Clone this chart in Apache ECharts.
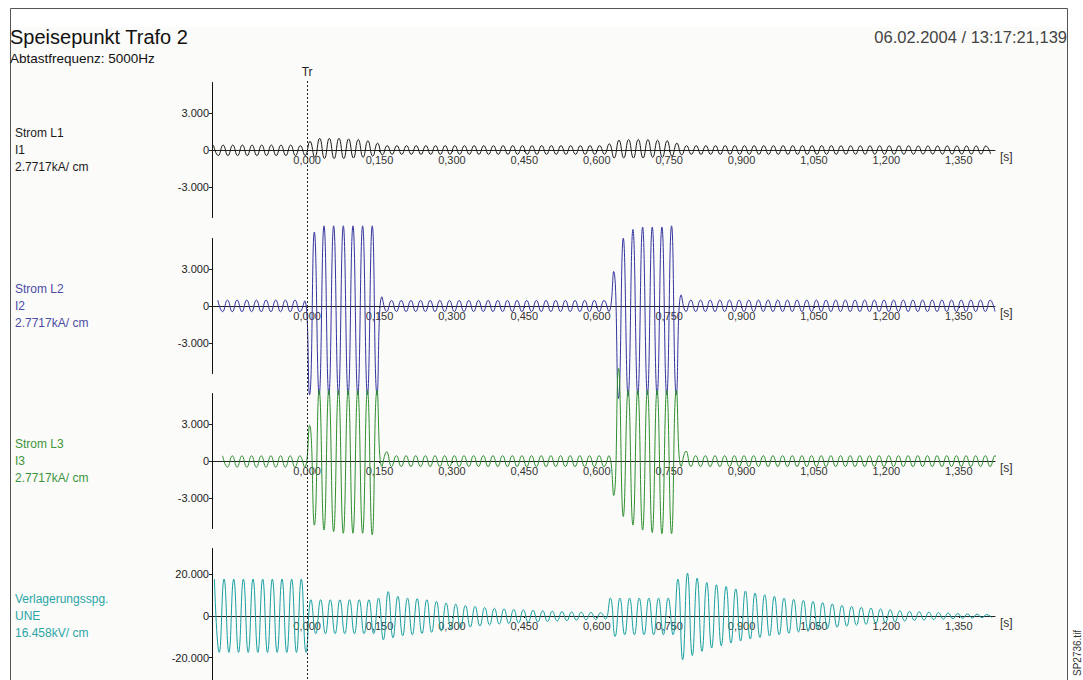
<!DOCTYPE html>
<html><head><meta charset="utf-8">
<script src="https://cdn.jsdelivr.net/npm/echarts@6/dist/echarts.min.js"></script>
<style>html,body{margin:0;padding:0;background:#fff;}#c{width:1083px;height:680px;}</style>
</head><body><div id="c"></div>
<script>
// ---------------- data ----------------
const titleText = 'Speisepunkt Trafo 2';
const subtitleText = 'Abtastfrequenz: 5000Hz';
const timestampText = '06.02.2004 / 13:17:21,139';
const fileText = 'SP2736.tif';
const triggerLabel = 'Tr';
const triggerTime = 0;

const timeMin = -0.197, timeMax = 1.425;           // seconds shown on the x axes
const timeTicks = [0, 0.15, 0.3, 0.45, 0.6, 0.75, 0.9, 1.05, 1.2, 1.35];
const currentTicks = [-3000, 0, 3000];
const voltageTicks = [-20000, 0, 20000];
const currentRange = 5473;    // +-2 cm at 2.7717 kA/cm (approx)
const voltageRange = 32413;   // +-2 cm at 16.458 kV/cm (approx)

const channelNames = ['Strom L1', 'Strom L2', 'Strom L3', 'Verlagerungsspg.'];
const channelSignals = ['I1', 'I2', 'I3', 'UNE'];
const channelScales = ['2.7717kA/ cm', '2.7717kA/ cm', '2.7717kA/ cm', '16.458kV/ cm'];

// waveform: 50 Hz, one positive and one negative peak per cycle
const halfPeriod = 0.01;                              // s
const firstPeakTimes = [-0.194, -0.185, -0.175, -0.192]; // time of first positive peak

// I1 [A]
const i1Pos = [400,400,400,400,400,400,400,400,400,350,
  700,950,950,950,900,850,750,550,
  350,350,350,350,350,350,350,350,350,350,350,350,350,350,350,350,350,350,350,350,350,350,350,
  500,800,850,850,850,800,750,550,
  350,350,350,350,350,350,350,350,350,350,350,350,350,350,350,350,340,340,340,340,340,340,340,340,330,330,330,330,330,330,330,330];
const i1Neg = [-450,-450,-450,-450,-450,-450,-450,-450,-450,-450,
  -600,-700,-700,-700,-650,-600,-500,-400,
  -350,-350,-350,-350,-350,-350,-350,-350,-350,-350,-350,-350,-350,-350,-350,-350,-350,-350,-350,-350,-350,-350,-350,
  -650,-650,-650,-650,-600,-600,-500,-400,
  -350,-350,-350,-350,-350,-350,-350,-350,-350,-350,-350,-350,-350,-350,-350,-350,-340,-340,-340,-340,-340,-340,-340,-340,-330,-330,-330,-330,-330,-330,-330,-330];
// I2 [A]
const i2Pos = [480,480,480,480,480,480,480,480,480,420,
  6000,6500,6500,6500,6500,6500,6500,
  750,
  450,450,450,450,450,450,450,450,450,450,450,450,450,450,450,450,450,450,450,450,450,450,450,
  2800,5500,6200,6400,6400,6400,6500,
  900,
  480,480,480,480,480,480,480,480,480,480,480,480,480,480,480,480,480,480,480,480,480,480,480,480,480,480,480,480,480,480,480,480];
const i2Neg = [-460,-460,-460,-460,-460,-460,-460,-460,-460,
  -7200,-7200,-7200,-7200,-7200,-7200,-7200,-7200,
  -450,-450,-450,-450,-450,-450,-450,-450,-450,-450,-450,-450,-450,-450,-450,-450,-450,-450,-450,-450,-450,-450,-450,-450,
  -7500,-7300,-7200,-7200,-7200,-7200,-7200,
  -450,-450,-450,-450,-450,-450,-450,-450,-450,-450,-450,-450,-450,-450,-450,-450,-450,-450,-450,-450,-450,-450,-450,-450,-450,-450,-450,-450,-450,-450,-450,-450,-450];
// I3 [A]
const i3Pos = [420,420,420,420,420,420,420,420,420,
  2900,
  5750,5750,5750,5750,5750,5750,5750,
  750,
  430,430,430,430,430,430,430,430,430,430,430,430,430,430,430,430,430,430,430,430,430,430,430,
  7500,
  5750,5750,5750,5750,5750,5750,
  800,
  430,430,430,430,430,430,430,430,430,430,430,430,430,430,430,430,430,430,430,430,430,430,430,430,430,430,430,430,430,430,430,430];
const i3Neg = [-500,-500,-500,-500,-500,-500,-500,-500,-500,
  -5200,-5600,-5730,-5860,-5860,-5860,-6000,
  -450,-450,-450,-450,-450,-450,-450,-450,-450,-450,-450,-450,-450,-450,-450,-450,-450,-450,-450,-450,-450,-450,-450,-450,
  -2800,-4500,-5200,-5600,-5800,-5900,-5900,
  -450,-450,-450,-450,-450,-450,-450,-450,-450,-450,-450,-450,-450,-450,-450,-450,-450,-450,-450,-450,-450,-450,-450,-450,-450,-450,-450,-450,-450,-450,-450,-450,-450,-450];
// UNE [V]
const unePos = [17700,17700,17700,17700,17700,17700,17700,17700,17700,17700,
  7800,7800,7800,7800,7800,7800,7800,
  8600,11700,9400,8600,8300,7800,7000,6200,5700,5100,4600,4100,3700,
  3400,3100,2900,2700,2500,2300,2100,1900,1800,1700,1600,
  8600,8600,8600,8600,8600,8600,8600,
  17700,20600,18200,16100,15000,14200,13000,12000,11000,10200,9400,8600,8000,7500,7000,6400,5800,5100,4600,4200,3800,3400,3000,2500,2200,2000,1800,1600,1400,1200,1000,900,700];
const uneNeg = [-17500,-17500,-17500,-17500,-17500,-17500,-17500,-17500,-17500,-17500,
  -8500,-8500,-8500,-8500,-8500,-8500,-8500,
  -11400,-10500,-9500,-9000,-8400,-7800,-7200,-6500,-5900,-5300,-4800,-4300,-3900,
  -3600,-3300,-3000,-2800,-2600,-2400,-2200,-2000,-1800,-1700,-1500,
  -9800,-9000,-9000,-9000,-9000,-9000,-9000,
  -21000,-19000,-17000,-15400,-14300,-13000,-12000,-11000,-10300,-9600,-9000,-8300,-7700,-7100,-6500,-6000,-5400,-4900,-4400,-4000,-3600,-3200,-2800,-2400,-2100,-1900,-1700,-1500,-1300,-1100,-1000,-800,-700];

const positivePeaks = [i1Pos, i2Pos, i3Pos, unePos];
const negativePeaks = [i1Neg, i2Neg, i3Neg, uneNeg];

// ---------------- styling ----------------
const lineColors = ['#1a1a1a', '#3434a0', '#2f8f2f', '#17a0a0'];
const textColors = ['#1a1a1a', '#4b4ba6', '#3b943b', '#2aa6a6'];
const gridTops = [82.5, 238.5, 393.5, 548.5];
const gridH = 135, gridLeft = 212, gridW = 783, pageH = 680;
const FONT = '"Liberation Sans", Arial, sans-serif';

function fmtTime(v) { return v.toFixed(3).replace('.', ','); }
function fmtVal(v) {
  if (v === 0) return '0';
  const s = Math.abs(v).toFixed(0).replace(/\B(?=(\d{3})+(?!\d))/g, '.');
  return (v < 0 ? '-' : '') + s;
}
function buildWave(ch) {
  const pos = positivePeaks[ch], neg = negativePeaks[ch], out = [];
  for (let k = 0; k < pos.length; k++) {
    const t = firstPeakTimes[ch] + 2 * halfPeriod * k;
    out.push([t, pos[k]]);
    if (k < neg.length) out.push([t + halfPeriod, neg[k]]);
  }
  return out;
}

const grid = [], xAxis = [], yAxis = [], series = [];
for (let ch = 0; ch < 4; ch++) {
  const isU = ch === 3;
  const half = gridH / 2;
  // the last panel runs past the page bottom: keep the visible part and its scale
  const h = Math.min(gridH, pageH - gridTops[ch]);
  const below = h - half;
  const r = isU ? voltageRange : currentRange;
  grid.push({ left: gridLeft, width: gridW, top: gridTops[ch], height: h, containLabel: false });
  xAxis.push({
    type: 'value', gridIndex: ch, min: timeMin, max: timeMax, position: 'bottom', offset: -below,
    name: '[s]', nameLocation: 'end', nameGap: 5,
    nameTextStyle: { fontFamily: FONT, fontSize: 12, color: '#333', verticalAlign: 'top', padding: [1, 0, 0, 0] },
    axisLine: { show: true, onZero: false, lineStyle: { color: '#222', width: 1 } },
    axisTick: { show: true, customValues: timeTicks, length: 2, lineStyle: { color: '#222' } },
    axisLabel: { show: true, customValues: timeTicks, formatter: fmtTime, fontFamily: FONT, fontSize: 11, color: '#333', margin: 4 },
    splitLine: { show: false }
  });
  const ticks = isU ? voltageTicks : currentTicks;
  yAxis.push({
    type: 'value', gridIndex: ch, min: -r * below / half, max: r,
    axisLine: { show: true, onZero: false, lineStyle: { color: '#111', width: 1 } },
    axisTick: { show: true, customValues: ticks, length: 3, lineStyle: { color: '#222' } },
    axisLabel: { show: true, customValues: ticks, formatter: fmtVal, fontFamily: FONT, fontSize: 11, color: '#222', margin: 3 },
    splitLine: { show: false }
  });
  series.push({
    type: 'line', xAxisIndex: ch, yAxisIndex: ch, data: buildWave(ch),
    smooth: 0.5, showSymbol: false, symbol: 'none', clip: false,
    lineStyle: { color: lineColors[ch], width: 1 }, z: 3
  });
}

const chart = echarts.init(document.getElementById('c'), null, { renderer: 'svg' });
chart.setOption({ animation: false, backgroundColor: '#ffffff', grid, xAxis, yAxis, series });

// decorations placed from the axes' scales
const trX = chart.convertToPixel({ xAxisIndex: 0 }, triggerTime);
const g = [];
g.push({ type: 'rect', id: 'bg', z: -10, silent: true, shape: { x: 11, y: 27, width: 1056, height: 660 }, style: { fill: '#fbfbf9' } });
g.push({ type: 'polyline', id: 'frame', z: 20, silent: true, shape: { points: [[10.5, 690], [10.5, 8.5], [1067.5, 8.5], [1067.5, 690]] }, style: { stroke: '#555', lineWidth: 1, fill: null } });
g.push({ type: 'text', id: 'title', z: 20, x: 10, y: 37, style: { text: titleText, fontFamily: FONT, fontSize: 20, fill: '#111', verticalAlign: 'middle' } });
g.push({ type: 'text', id: 'sub', z: 20, x: 10, y: 58, style: { text: subtitleText, fontFamily: FONT, fontSize: 13.5, fill: '#111', verticalAlign: 'middle' } });
g.push({ type: 'text', id: 'ts', z: 20, x: 1067, y: 37, style: { text: timestampText, fontFamily: FONT, fontSize: 16.5, fill: '#444', align: 'right', verticalAlign: 'middle' } });
g.push({ type: 'text', id: 'file', z: 20, x: 1077, y: 676, rotation: Math.PI / 2, style: { text: fileText, fontFamily: FONT, fontSize: 10, fill: '#333', verticalAlign: 'middle' } });
g.push({ type: 'line', id: 'tr', z: 30, silent: true, shape: { x1: Math.round(trX) + 0.5, y1: 81, x2: Math.round(trX) + 0.5, y2: 690 }, style: { stroke: '#222', lineWidth: 1, lineDash: [2, 2] } });
g.push({ type: 'text', id: 'trl', z: 30, x: trX, y: 72, style: { text: triggerLabel, fontFamily: FONT, fontSize: 12, fill: '#222', align: 'center', verticalAlign: 'middle' } });
for (let ch = 0; ch < 4; ch++) {
  const zeroY = chart.convertToPixel({ yAxisIndex: ch }, 0);
  [channelNames[ch], channelSignals[ch], channelScales[ch]].forEach((t, i) => {
    g.push({ type: 'text', id: 'lab' + ch + '_' + i, z: 20, x: 15, y: zeroY - 17 + 17 * i,
      style: { text: t, fontFamily: FONT, fontSize: 12, fill: textColors[ch], verticalAlign: 'middle' } });
  });
}
chart.setOption({ graphic: g });
</script></body></html>
